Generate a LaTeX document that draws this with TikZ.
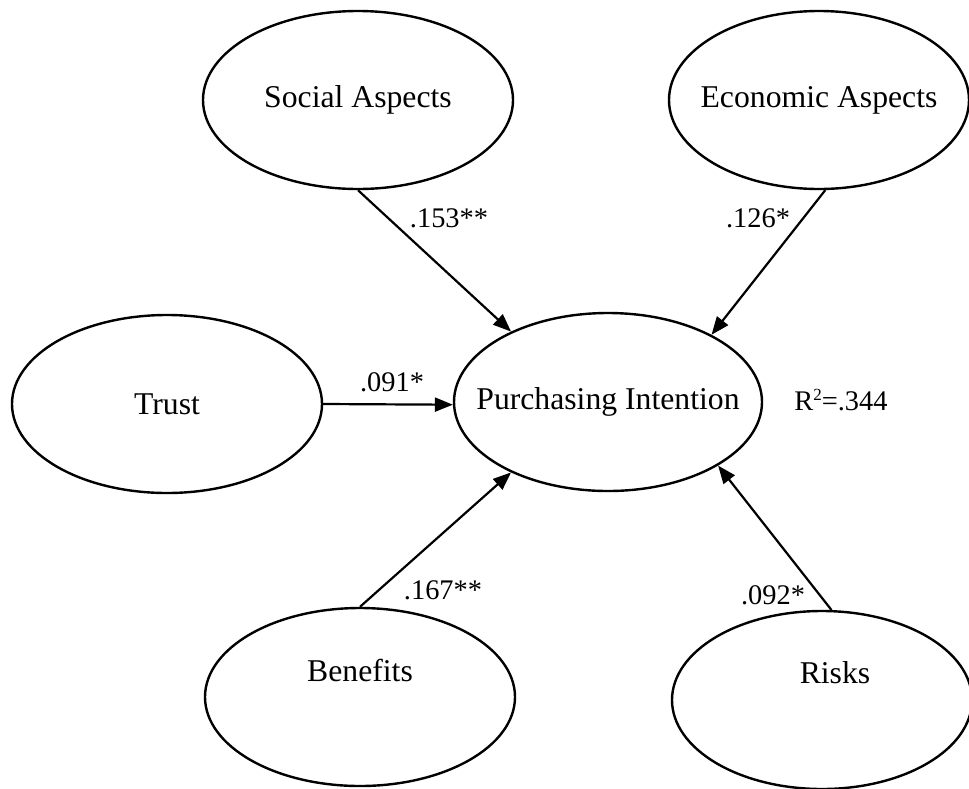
\documentclass[tikz,border=0pt]{standalone}
\usepackage{fontspec}
\setmainfont{Liberation Serif}
\usetikzlibrary{shapes.geometric,arrows.meta}
\tikzset{
  latent/.style={ellipse, draw, line width=2.4pt, minimum height=178pt, inner sep=0pt,
    font=\fontsize{31.7}{38}\selectfont},
  path/.style={line width=2.2pt, -{Triangle[length=18pt,width=14pt]}},
  coef/.style={inner sep=0pt, font=\fontsize{28.4}{34}\selectfont}
}
\begin{document}
\begin{tikzpicture}[x=1pt,y=-1pt]
\useasboundingbox (0,0) rectangle (969,788);
\node[latent, minimum width=310pt] (soc) at (358,100) {\makebox[0pt]{Social Aspects}};
\node[latent, minimum width=300pt] (eco) at (819,100) {\makebox[0pt]{Economic Aspects}};
\node[latent, minimum width=310pt] (trust) at (167,404) {\makebox[0pt]{Trust}};
\node[latent, minimum width=308pt] (pi) at (608,402) {\makebox[0pt]{Purchasing Intention}};
\node[latent, minimum width=310pt] (ben) at (360,697) {\raisebox{27pt}[\height][\depth]{\makebox[0pt]{Benefits}}};
\node[latent, minimum width=300pt] (risk) at (822,700) {\raisebox{27pt}[\height][\depth]{\makebox[0pt]{\hspace*{26pt}Risks}}};

\draw[path] (soc.south) -- (pi.144.5);
\draw[path] (eco.-86) -- (pi.33);
\draw[path] (trust.east) -- (pi.181);
\draw[path] (ben.north) -- (pi.216);
\draw[path] (risk.84) -- (pi.-30);

\node[coef] (c1) at (449,218) {.153**};
\node[coef] (c2) at (758,218) {.126*};
\node[coef] (c3) at (392,382) {.091*};
\node[coef] (c4) at (443,590) {.167**};
\node[coef] (c5) at (773,595) {.092*};
\node[coef] (r2) at (841,400) {R\raisebox{10pt}{\fontsize{17}{17}\selectfont 2}=.344};
\end{tikzpicture}
\end{document}
